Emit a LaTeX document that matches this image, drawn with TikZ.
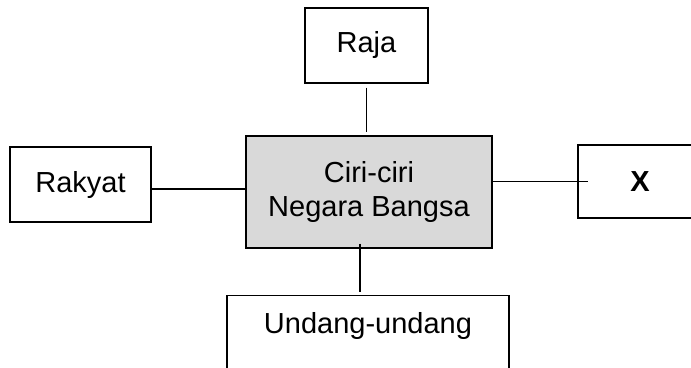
\documentclass[tikz,border=0pt]{standalone}
\usepackage{fontspec}
\setmainfont{Liberation Sans}
\begin{document}
\begin{tikzpicture}[x=1pt,y=-1pt,line width=1.3pt,
    box/.style={draw,inner sep=0pt,font=\fontsize{29}{34}\selectfont,align=center},
    centrebox/.style={box,fill=gray!30}]
      \clip (0,0) rectangle (691,367);
      \draw
        (366.5,45.5) node[box,minimum width=123,minimum height=75] (raja){Raja}
        (80.5,184.5) node[box,minimum width=141,minimum height=75] (rakyat){Rakyat}
        (369,192) node[centrebox,minimum width=246,minimum height=112] (ciri){Ciri-ciri\\Negara Bangsa}
        (640,181.5) node[box,minimum width=124,minimum height=73] (x){\bfseries X}
        (368,295) node[box,anchor=north,minimum width=282,inner ysep=17pt,text height=21pt,text depth=45pt] (undang){Undang-undang};
      \begin{scope}[-]
        \draw[shorten <=4pt,shorten >=3pt] (raja.south) to (raja.south |- ciri.north);
        \draw ([yshift=-4.5pt]rakyat.east) to ([yshift=-4.5pt,xshift=1pt]rakyat.east -| ciri.west);
        \draw (x.west -| ciri.east) to ([xshift=11pt]x.west);
        \draw[shorten >=3pt] ([xshift=-9pt,yshift=5pt]ciri.south) to ([xshift=-9pt]ciri.south |- undang.north);
      \end{scope}
    \end{tikzpicture}
\end{document}
